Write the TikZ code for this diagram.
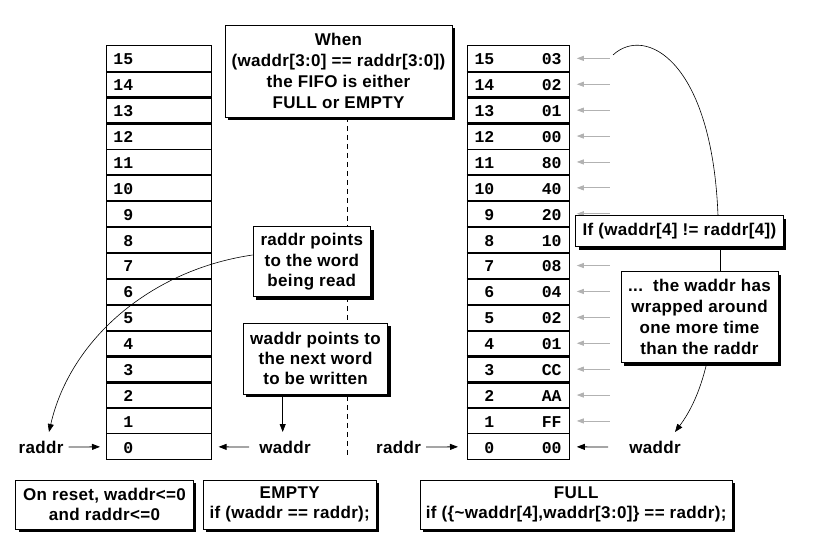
\documentclass[tikz,border=0pt]{standalone}
\usepackage{fontspec}
\setmainfont{Liberation Sans}[LetterSpace=2]
\newfontfamily\monof{Liberation Mono}
\usetikzlibrary{arrows.meta,shadows,calc}
\begin{document}
\begin{tikzpicture}[x=1pt,y=-1pt,
  txt/.style={font=\bfseries\fontsize{17}{20.5}\selectfont},
  box/.style={txt, draw, fill=white, line width=0.9pt, align=center, inner sep=0pt,
    drop shadow={shadow xshift=3pt,shadow yshift=-3pt,fill=black,opacity=1}},
  cell/.style={draw, line width=0.8pt, minimum height=25.9pt, inner sep=0pt, anchor=north west},
  num/.style={font=\monof\bfseries\fontsize{16.5}{16.5}\selectfont, inner sep=0pt, anchor=east},
  lbl/.style={txt, inner sep=0pt},
  blk/.style={line width=0.8pt, -{Triangle[length=8pt,width=6pt]}},
  gry/.style={draw=black!30, line width=0.8pt, -{Triangle[length=7pt,width=5pt]}},
  thin/.style={line width=0.6pt}]
\fill[white] (0,0) rectangle (823,548);
\useasboundingbox (0,0) rectangle (823,548);

% dashed separator
\coordinate (dtop) at (347.7,117);
\coordinate (dbot) at (347.7,455);
\draw[line width=0.7pt, dash pattern=on 5pt off 4pt] (dtop) -- (dbot);

% memory columns
\foreach \i/\v in {15/03,14/02,13/01,12/00,11/80,10/40,9/20,8/10,7/08,6/04,5/02,4/01,3/CC,2/AA,1/FF,0/00}{
  \pgfmathsetmacro\tp{45+(15-\i)*25.9}
  \node[cell, minimum width=104.5pt] (L\i) at (106,\tp) {};
  \node[num] (Ln\i) at ($(L\i.west)+(27.5,1)$) {\i};
  \node[cell, minimum width=102.3pt] (R\i) at (466.7,\tp) {};
  \node[num] (Rn\i) at ($(R\i.west)+(27.8,1)$) {\i};
  \node[num] (Rv\i) at ($(R\i.east)+(-8,1)$) {\v};
}
\foreach \i in {15,14,13,11,10,9,8,7,6,5,4,3,2}{
  \draw[line width=2.2pt] (L\i.south west) -- (L\i.south east);
  \draw[line width=2.2pt] (R\i.south west) -- (R\i.south east);
}

% gray arrows
\foreach \i in {15,14,13,12,11,10,9,7,6,5,4,3,2,1}{
  \coordinate (A\i) at ($(R\i.east)+(40,0)$);
  \coordinate (T\i) at ($(R\i.east)+(7,0)$);
  \draw[gry] (A\i) -- (T\i);
}

% pointer labels
\node[lbl] (rL1) at (41,447) {raddr};
\node[lbl] (wL1) at (285,447) {waddr};
\node[lbl] (rL2) at (398.5,447) {raddr};
\node[lbl] (wL2) at (655,447) {waddr};
\draw[blk] ([xshift=5pt]rL1.east) -- ([xshift=-6pt]L0.west);
\draw[blk] ([xshift=-10pt]wL1.west) -- ([xshift=7.3pt]L0.east);
\draw[blk] ([xshift=5pt]rL2.east) -- ([xshift=-8.7pt]R0.west);
\draw[blk] ([xshift=-21pt]wL2.west) -- ([xshift=7pt]R0.east);

% text boxes
\node[box, minimum width=227pt, minimum height=92pt, font=\bfseries\fontsize{17}{21}\selectfont] (when) at (338.5,71)
  {When\\(waddr[3:0] == raddr[3:0])\\the FIFO is either\\FULL or EMPTY};
\node[box, minimum width=117.7pt, minimum height=70pt] (rb) at (311.8,261.7)
  {raddr points\\to the word\\being read};
\node[box, minimum width=144.4pt, minimum height=70.7pt, font=\bfseries\fontsize{17}{20}\selectfont] (wb) at (315.5,358.7)
  {waddr points to\\the next word\\to be written};
\node[box, minimum width=207.3pt, minimum height=30.7pt] (ifb) at (679.4,231.3)
  {If (waddr[4] != raddr[4])};
\node[box, minimum width=157pt, minimum height=91pt, font=\bfseries\fontsize{17}{21}\selectfont] (wrap) at (699.5,317.2)
  {...\ \ the waddr has\\wrapped around\\one more time\\than the raddr};

\node[box, minimum width=177.6pt, minimum height=49.3pt, font=\bfseries\fontsize{17}{20.3}\selectfont] (reset) at (104.5,504.7)
  {On reset, waddr<=0\\and raddr<=0};
\node[box, minimum width=172.7pt, minimum height=49.3pt, font=\bfseries\fontsize{17}{20.3}\selectfont] (empty) at (289.7,504.7)
  {EMPTY\\if (waddr == raddr);};
\node[box, minimum width=312.3pt, minimum height=49.3pt, font=\bfseries\fontsize{17}{20.3}\selectfont] (full) at (576.2,504.7)
  {FULL\\if (\{\textasciitilde waddr[4],waddr[3:0]\} == raddr);};

% connectors
\coordinate (rtip) at (49,432);
\draw[thin, -{Triangle[length=8pt,width=6pt]}] ([yshift=6.7pt]rb.west) .. controls (150,270) and (70,340) .. (rtip);
\coordinate (wtipL) at (282.7,432);
\draw[blk] ([xshift=-32.8pt]wb.south) -- (wtipL);
\draw[line width=0.8pt] ([xshift=40.6pt]ifb.south) -- ([xshift=20.5pt]wrap.north);
\coordinate (arcS) at (613,55);
\draw[thin] (arcS) .. controls (645,25) and (712,60) .. ([xshift=38.6pt]ifb.north);
\coordinate (wtipR) at (675,432);
\draw[thin, -{Triangle[length=8pt,width=6pt]}] ([xshift=7.2pt]wrap.south) .. controls (700,392) and (690,412) .. (wtipR);
\end{tikzpicture}
\end{document}
